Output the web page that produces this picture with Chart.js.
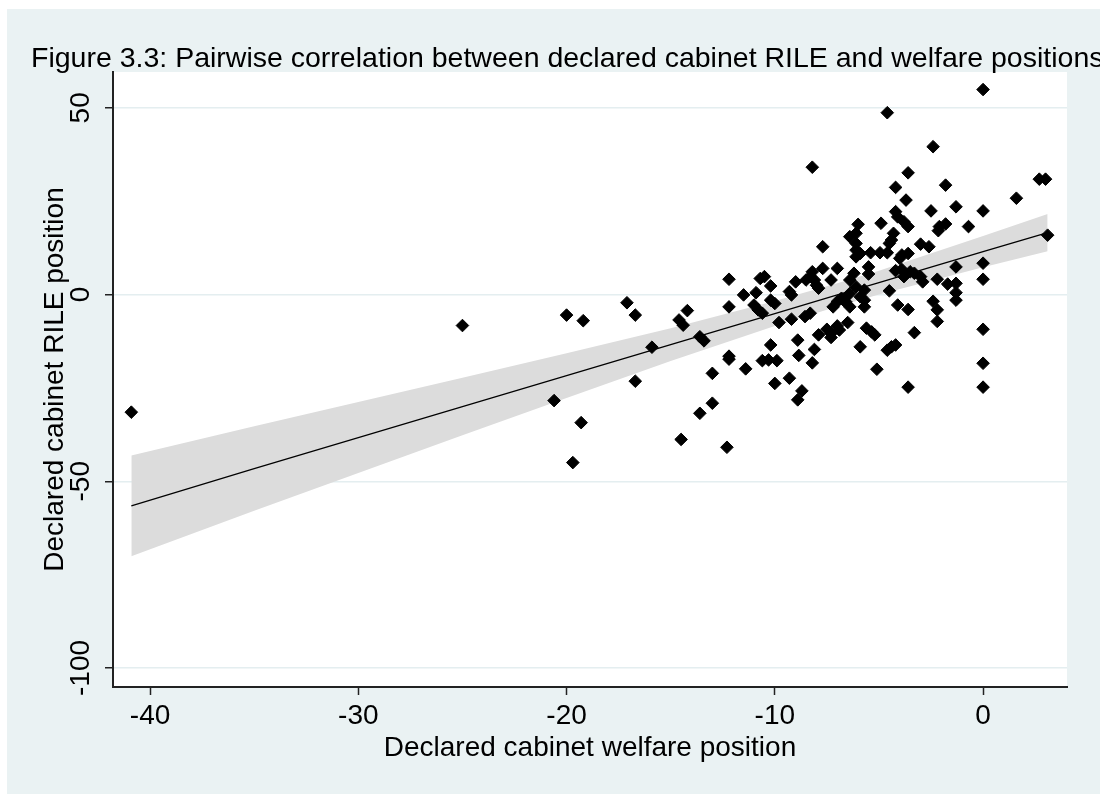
<!DOCTYPE html>
<html>
<head>
<meta charset="utf-8">
<title>Figure 3.3</title>
<script src="https://cdn.jsdelivr.net/npm/chart.js@4.4.1/dist/chart.umd.min.js"></script>
<style>
  html, body { margin: 0; padding: 0; background: #fff; }
  #wrap { position: absolute; left: 7px; top: 9px; width: 1093px; height: 785px; }
  #fig { display: block; background: #eaf2f3; }
</style>
</head>
<body>
<div id="wrap"><canvas id="fig" width="1093" height="785"></canvas></div>
<script>
// figure text
const chartTitle = "Figure 3.3: Pairwise correlation between declared cabinet RILE and welfare positions";
const xTitle = "Declared cabinet welfare position";
const yTitle = "Declared cabinet RILE position";

// tick labels
const xTicks = [-40, -30, -20, -10, 0];
const yTicks = [-100, -50, 0, 50];

const welfare = [
  -40.9, -25.0, -20.6, -20.0, -19.7, -19.3, -19.2, -17.1, -16.7, -16.7,
  -15.9, -14.6, -14.4, -14.2, -14.5, -13.6, -13.4, -13.0, -13.0, -13.6,
  -12.3, -12.2, -12.2, -12.2, -12.2, -11.4, -11.5, -10.9, -10.7, -10.5,
  -10.2, -11.0, -10.8, -10.6, -10.2, -10.0, -9.8, -10.2, -10.6, -10.3,
  -9.9, -10.0, -9.3, -9.2, -9.3, -9.2, -9.0, -8.9, -8.85, -8.9,
  -8.7, -8.2, -8.1, -7.9, -7.5, -7.3, -7.3, -7.0, -6.9, -6.5,
  -8.3, -8.55, -7.2, -7.0, -6.8, -6.6, -6.4, -5.7, -5.6, -5.35,
  -5.2, -5.9, -5.1, -4.6, -4.4, -4.2, -4.1, -3.6, -3.3, -3.6,
  -2.4, -2.2, -2.2, -1.3, -1.3, -1.7, 0, 0, 0, 0,
  0, 0, 0, -4.6, -2.4, -3.6, -4.2, -1.8, 2.7, 3.0,
  1.6, -3.7, -2.5, -1.3, -4.9, -4.2, -4.1, -3.8, -3.6, -6.0,
  -2.1, -1.8, -2.15, -0.7, 3.1, -4.3, -4.4, -4.5, -3.0, -2.6,
  -5.4, -4.95, -4.6, -3.9, -3.6, -4.0, -1.3, -5.5, -5.5, -4.2,
  -3.9, -3.8, -3.5, -3.3, -3.0, -2.9, -2.2, -1.3, -4.5, -5.7,
  -5.7, -6.1, -6.4, -8.2, -7.7, -6.1, -6.1, -6.1, -5.9, -7.0,
  -7.7, -8.2, -8.3, -8.1, -8.0, -7.9, -8.5, -7.3, -6.2, -6.4,
  -6.1, -6.4, -6.7, -5.9
];
const rile = [
  -31.5, -8.3, -28.4, -5.5, -45.0, -34.3, -7.0, -2.2, -5.5, -23.2,
  -14.1, -6.8, -8.2, -4.3, -38.8, -11.3, -12.4, -21.1, -29.1, -31.8,
  -40.9, 4.1, -3.3, -16.5, -17.3, -19.9, -0.1, 0.5, 4.3, 4.8,
  2.3, -2.8, -4.1, -5.0, -1.5, -2.4, -7.5, -13.5, -17.7, -17.5,
  -17.7, -23.8, -22.4, -0.1, 0.8, -6.6, 3.4, -12.2, -16.3, -28.2,
  -25.8, -18.3, -14.7, -10.8, -9.3, -10.4, -11.5, -8.4, -9.5, -7.5,
  -5.0, -5.9, -3.3, -1.9, -1.0, -1.9, -3.3, -3.3, -9.0, -10.0,
  -10.8, -14.0, -20.0, -14.9, -14.0, -13.5, -2.8, -4.0, -10.2, -24.8,
  -1.8, -4.1, -7.2, -1.5, 0.5, 2.8, 54.9, 22.4, 8.4, 4.1,
  -9.3, -18.4, -24.8, 48.7, 39.6, 32.6, 28.7, 29.3, 30.9, 30.9,
  25.8, 25.3, 22.4, 23.5, 19.1, 22.2, 20.8, 19.5, 18.2, 18.8,
  18.2, 18.9, 17.1, 18.2, 15.9, 16.4, 14.6, 13.7, 13.5, 12.8,
  11.2, 11.2, 11.2, 10.6, 11.0, 9.7, 7.4, 7.4, 5.5, 6.4,
  6.7, 4.8, 6.1, 5.7, 4.8, 3.4, 4.1, 3.0, 1.0, 1.2,
  -1.5, 16.4, 15.5, 34.1, 12.8, 13.7, 11.9, 10.1, 11.0, 7.0,
  7.0, 6.1, 4.8, 3.9, 2.5, 1.7, 3.9, 3.9, 5.7, 3.9,
  2.1, 0.3, -1.5, -0.6
];

// fitted line and 95% band, read at a few x positions
const fitX = [-40.9, -35, -30, -25, -20, -15, -10, -7, -5, 0, 3.1];
const fitY = [-56.6, -46.6, -38.3, -30.0, -21.7, -13.4, -5.1, -0.1, 3.2, 11.5, 16.6];
const bandHi = [-43.1, -35.3, -28.8, -22.3, -15.7, -9.0, -1.75, 3.0, 6.4, 15.7, 21.6];
const bandLo = [-70.1, -57.9, -47.8, -37.7, -27.7, -17.8, -8.45, -3.2, 0.0, 7.3, 11.6];

const FONT = '"Liberation Sans", Arial, sans-serif';
Chart.defaults.font.family = FONT;
Chart.defaults.color = "#000";

const pts = (xs, ys) => xs.map((x, i) => ({ x: x, y: ys[i] }));

// white plot region + title
const plotBg = {
  id: "plotBg",
  beforeDraw(chart) {
    const { ctx, chartArea: a } = chart;
    ctx.save();
    ctx.fillStyle = "#fff";
    ctx.fillRect(a.left, a.top, a.right - a.left, a.bottom - a.top);
    ctx.restore();
  },
  afterDraw(chart) {
    const ctx = chart.ctx;
    ctx.save();
    ctx.font = "28.5px " + FONT;
    ctx.fillStyle = "#000";
    ctx.textBaseline = "alphabetic";
    ctx.fillText(chartTitle, 24, 58);
    ctx.restore();
  }
};

new Chart(document.getElementById("fig"), {
  type: "scatter",
  data: {
    datasets: [
      {
        data: pts(welfare, rile),
        pointStyle: "rectRot",
        pointRadius: 6.3,
        backgroundColor: "#000",
        borderColor: "#000",
        borderWidth: 1,
        order: 0
      },
      {
        type: "line",
        data: pts(fitX, fitY),
        borderColor: "#000",
        borderWidth: 1.2,
        pointRadius: 0,
        fill: false,
        order: 1
      },
      {
        type: "line",
        data: pts(fitX, bandHi),
        borderWidth: 0,
        pointRadius: 0,
        backgroundColor: "#dcdcdc",
        fill: "+1",
        order: 2
      },
      {
        type: "line",
        data: pts(fitX, bandLo),
        borderWidth: 0,
        pointRadius: 0,
        fill: false,
        order: 3
      }
    ]
  },
  options: {
    responsive: false,
    animation: false,
    layout: { padding: { left: 24, top: 63, right: 33, bottom: 0 } },
    plugins: { legend: { display: false }, tooltip: { enabled: false } },
    scales: {
      x: {
        type: "linear",
        min: -41.78,
        max: 4.03,
        afterBuildTicks: s => { s.ticks = xTicks.map(v => ({ value: v })); },
        afterFit: s => { s.height = 107; },
        border: { color: "#222", width: 2 },
        grid: { drawOnChartArea: false, tickLength: 8, tickColor: "#222", tickWidth: 1.5 },
        ticks: { font: { size: 28 }, color: "#000", padding: 4, maxRotation: 0 },
        title: {
          display: true,
          text: xTitle,
          font: { size: 28, lineHeight: 1 },
          color: "#000",
          padding: { top: 0, bottom: 32 }
        }
      },
      y: {
        type: "linear",
        min: -105.1,
        max: 59.6,
        afterBuildTicks: s => { s.ticks = yTicks.map(v => ({ value: v })); },
        afterFit: s => { s.width = 82; },
        border: { color: "#222", width: 2 },
        grid: { color: "#e4eef0", lineWidth: 1.5, tickLength: 8, tickColor: "#222", tickWidth: 1.5 },
        ticks: { font: { size: 28 }, color: "#000", padding: -4, minRotation: 90, maxRotation: 90, crossAlign: "center" },
        title: {
          display: true,
          text: yTitle,
          font: { size: 28, lineHeight: 1 },
          color: "#000",
          padding: { top: 10, bottom: 0 }
        }
      }
    }
  },
  plugins: [plotBg]
});
</script>
</body>
</html>
